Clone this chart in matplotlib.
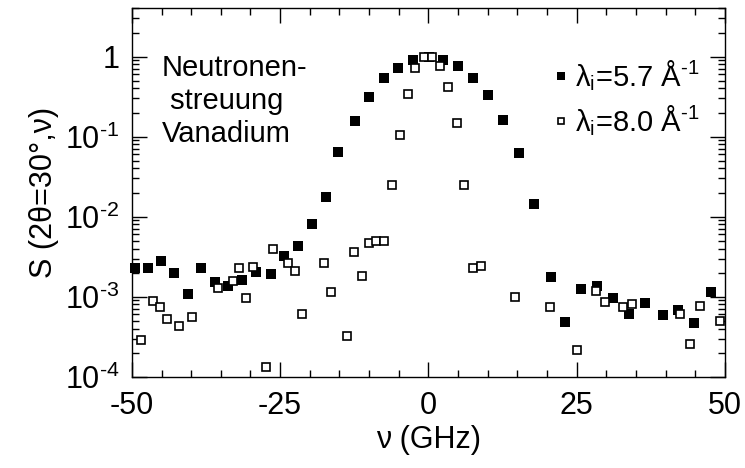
import numpy as np
import matplotlib
matplotlib.use("Agg")
import matplotlib.pyplot as plt
from matplotlib.ticker import FixedLocator, LogLocator, FuncFormatter, NullFormatter

plt.rcParams['font.family'] = ['Liberation Sans', 'DejaVu Sans']
plt.rcParams['mathtext.fontset'] = 'custom'
plt.rcParams['mathtext.rm'] = 'Liberation Sans'
plt.rcParams['mathtext.it'] = 'Liberation Sans:italic'
plt.rcParams['mathtext.bf'] = 'Liberation Sans:bold'
plt.rcParams['axes.unicode_minus'] = False

# lambda_i = 5.7 A^-1 (gefuellte Quadrate)
nu57 = [-49.5, -47.2, -45.1, -42.9, -40.5, -38.4, -36.0, -33.8, -31.4, -29.1,
        -26.6, -24.4, -22.0, -19.6, -17.2, -15.2, -12.3, -10.0, -7.45, -5.1,
        -2.6, 0.1, 2.5, 5.0, 7.55, 10.1, 12.6, 15.3, 17.8, 20.6,
        23.0, 25.8, 28.5, 31.2, 33.9, 36.5, 39.5, 42.1, 44.8, 47.6]
s57 = [2.3e-3, 2.3e-3, 2.77e-3, 2.0e-3, 1.07e-3, 2.26e-3, 1.51e-3, 1.35e-3, 1.62e-3, 2.04e-3,
       1.92e-3, 3.2e-3, 4.27e-3, 8.1e-3, 0.0178, 0.064, 0.155, 0.316, 0.537, 0.73,
       0.91, 0.98, 0.91, 0.77, 0.537, 0.33, 0.162, 0.062, 0.0144, 1.75e-3,
       4.9e-4, 1.25e-3, 1.36e-3, 9.5e-4, 6.1e-4, 8.3e-4, 5.9e-4, 6.9e-4, 4.65e-4, 1.13e-3]

# lambda_i = 8.0 A^-1 (offene Quadrate)
nu80 = [-48.5, -46.4, -45.3, -44.1, -42.0, -39.8, -35.4, -33.0, -32.0, -30.8,
        -29.6, -27.3, -26.2, -23.6, -22.5, -21.3, -17.6, -16.4, -13.8, -12.5,
        -11.2, -10.0, -8.75, -7.45, -6.1, -4.8, -3.5, -2.3, -0.8, 0.54,
        1.9, 3.3, 4.75, 6.0, 7.45, 8.85, 14.6, 20.5, 25.1, 28.2,
        29.7, 32.75, 34.4, 42.4, 44.1, 45.8, 49.2]
s80 = [2.9e-4, 8.9e-4, 7.5e-4, 5.2e-4, 4.3e-4, 5.6e-4, 1.28e-3, 1.57e-3, 2.28e-3, 9.7e-4,
       2.37e-3, 1.31e-4, 3.9e-3, 2.6e-3, 2.07e-3, 6.0e-4, 2.6e-3, 1.13e-3, 3.2e-4, 3.6e-3,
       1.82e-3, 4.65e-3, 4.9e-3, 5.0e-3, 0.025, 0.105, 0.342, 0.716, 1.0, 1.0,
       0.76, 0.42, 0.148, 0.0246, 2.27e-3, 2.44e-3, 1.0e-3, 7.5e-4, 2.15e-4, 1.18e-3,
       8.6e-4, 7.4e-4, 8.1e-4, 6.1e-4, 2.55e-4, 7.6e-4, 5.0e-4]

xticks = [-50, -25, 0, 25, 50]
HY = '\u2010'  # kurzer Bindestrich statt Minuszeichen im Exponenten

fig = plt.figure(figsize=(7.45, 4.68), dpi=100)
ax = fig.add_axes([0.177, 0.195, 0.796, 0.787])

ax.plot(nu57, s57, ls='none', marker='s', ms=6.6, mfc='black', mec='black', mew=0,
        label='λ$_{\\mathregular{i}}$=5.7 Å$^{\\mathregular{%s1}}$' % HY, clip_on=False)
ax.plot(nu80, s80, ls='none', marker='s', ms=5.6, mfc='white', mec='black', mew=1.2,
        label='λ$_{\\mathregular{i}}$=8.0 Å$^{\\mathregular{%s1}}$' % HY, clip_on=False)

ax.set_yscale('log')
ax.set_xlim(-50, 50)
ax.set_ylim(1e-4, 4.0)

ax.xaxis.set_major_locator(FixedLocator(xticks))
ax.xaxis.set_minor_locator(FixedLocator(np.arange(-50, 51, 5)))
ax.yaxis.set_major_locator(LogLocator(base=10, numticks=10))
ax.yaxis.set_minor_locator(LogLocator(base=10, subs=np.arange(2, 10), numticks=20))
ax.yaxis.set_minor_formatter(NullFormatter())


def fmt_y(v, pos):
    e = int(round(np.log10(v)))
    if e == 0:
        return '1'
    return '10$^{\\mathregular{%s%d}}$' % (HY, -e)


ax.yaxis.set_major_formatter(FuncFormatter(fmt_y))

ax.tick_params(which='both', direction='in', top=True, right=True, labelsize=22)
ax.tick_params(which='major', length=10.5, width=1.0)
ax.tick_params(which='minor', length=5, width=1.0)
ax.tick_params(axis='x', pad=10)
ax.tick_params(axis='y', pad=9)
for sp in ax.spines.values():
    sp.set_linewidth(1.0)

ax.set_xlabel('ν (GHz)', fontsize=22, labelpad=3)
ax.set_ylabel('S (2θ=30°,ν)', fontsize=22, labelpad=4)

ax.text(0.05, 0.875, 'Neutronen-\n streuung\nVanadium', transform=ax.transAxes,
        fontsize=21, va='top', ha='left', linespacing=1.22)

ax.legend(loc='upper left', bbox_to_anchor=(0.713, 0.866), frameon=False, fontsize=21,
          handlelength=0.4, handletextpad=0.3, labelspacing=0.35, borderpad=0,
          borderaxespad=0, markerscale=0.78)

fig.savefig('out.png', dpi=100)
